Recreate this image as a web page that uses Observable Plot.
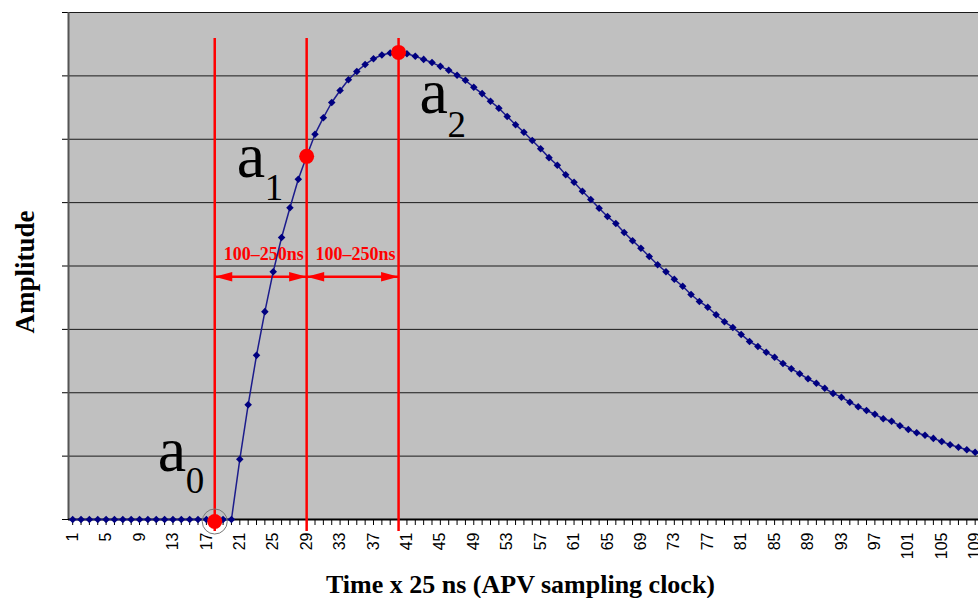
<!DOCTYPE html>
<html><head><meta charset="utf-8">
<script src="https://cdn.jsdelivr.net/npm/d3@7"></script>
<script src="https://cdn.jsdelivr.net/npm/@observablehq/plot@0.6"></script>
<style>body{margin:0;background:#fff;}</style>
</head><body><div id="chart"></div>
<script>
// ---- data ----
const amplitude = [
  0,0,0,0,0,0,0,0,0,0,0,0,0,0,0,0,0,0,0,0,
  95,181,259,328,391,445,492,537,573,608,
  634,658,677,694,707,718,727,733,736,737,
  735,731,726,721,715,709,701,693,682,672,
  660,649,636,623,611,598,585,571,559,544,
  532,518,505,491,478,467,453,440,428,415,
  402,391,379,368,355,344,335,323,312,303,
  292,281,273,264,256,246,238,230,222,215,
  207,199,193,185,178,172,166,159,155,148,
  142,137,133,128,123,118,114,110,106,103
];
const samples = amplitude.map((_, i) => i + 1);
const xTickLabels = [1,5,9,13,17,21,25,29,33,37,41,45,49,53,57,61,65,69,73,77,81,85,89,93,97,101,105,109];
const gridValues = [100,200,300,400,500,600,700,800];
const yTickValues = [0,100,200,300,400,500,600,700,800];
const markerSamples = [18, 29, 40];
const markerSubscripts = ["0", "1", "2"];
const spanLabel = "100–250ns";
const xTitle = "Time x 25 ns (APV sampling clock)";
const yTitle = "Amplitude";

const series = samples.map((s, i) => ({sample: s, amp: amplitude[i]}));
const annots = markerSamples.map((s, k) => ({sample: s, amp: amplitude[s - 1], sub: markerSubscripts[k]}));
const spans = markerSamples.slice(0, -1).map((s, k) => ({x1: s, x2: markerSamples[k + 1], mid: (s + markerSamples[k + 1]) / 2}));
const labelSet = new Set(xTickLabels);

const serif = "'Liberation Serif', 'Times New Roman', serif";
const red = "#ff0000";

function subLabel(k, dx, dy, sdx, sdy) {
  return [
    Plot.text([annots[k]], {x: "sample", y: "amp", text: () => "a", textAnchor: "start", lineAnchor: "bottom",
      dx, dy, fontFamily: serif, fontSize: 64, fill: "#000"}),
    Plot.text([annots[k]], {x: "sample", y: "amp", text: "sub", textAnchor: "start", lineAnchor: "bottom",
      dx: sdx, dy: sdy, fontFamily: serif, fontSize: 37, fill: "#000"})
  ];
}

const svg = Plot.plot({
  width: 978,
  height: 598,
  marginLeft: 68,
  marginRight: 0,
  marginTop: 12,
  marginBottom: 79,
  style: {fontFamily: "'Liberation Sans', Arial, sans-serif", fontSize: "16px", background: "#fff", color: "#000"},
  x: {type: "linear", domain: [0.5, 109.4], ticks: samples, tickSize: 6, tickPadding: 7, tickRotate: -90,
      tickFormat: d => labelSet.has(d) ? String(d) : "", label: null},
  y: {domain: [0, 800], ticks: yTickValues, tickSize: 6, tickFormat: () => "", label: null},
  marks: [
    Plot.frame({fill: "#c0c0c0", stroke: "none"}),
    Plot.ruleY(gridValues, {stroke: "#1a1a1a", strokeWidth: 1}),
    Plot.ruleX([0.5], {stroke: "#555", strokeWidth: 2}),
    Plot.ruleY([0], {stroke: "#000", strokeWidth: 2}),
    // red vertical markers
    Plot.ruleX(markerSamples, {y1: -19, y2: 759, stroke: red, strokeWidth: 2.5}),
    // span arrows
    Plot.link(spans, {x1: "x1", x2: "x2", y1: 383, y2: 383, stroke: red, strokeWidth: 2.5,
      markerStart: "arrow-reverse", markerEnd: "arrow"}),
    Plot.text(spans, {x: "mid", y: 418, text: () => spanLabel, dx: 3, fill: red, fontFamily: serif,
      fontWeight: "bold", fontSize: 18}),
    // signal
    Plot.line(series, {x: "sample", y: "amp", stroke: "#1c1c8c", strokeWidth: 1.5}),
    Plot.dot(series, {x: "sample", y: "amp", symbol: "diamond2", r: 3.4, fill: "#000080", stroke: "none"}),
    // highlighted samples
    Plot.dot([annots[0]], {x: "sample", y: "amp", r: 12.5, fill: "none", stroke: "#777", strokeWidth: 1, dy: 2}),
    Plot.dot([annots[0]], {x: "sample", y: "amp", r: 7.5, fill: red, dy: 2}),
    Plot.dot(annots.slice(1), {x: "sample", y: "amp", r: 7.5, fill: red}),
    ...subLabel(0, -57, -49, -29, -27),
    ...subLabel(1, -70, 21, -42, 44),
    ...subLabel(2, 21, 61, 49, 85),
    // axis titles
    Plot.text([xTitle], {frameAnchor: "bottom", lineAnchor: "bottom", dy: 73, dx: -3, fontFamily: serif,
      fontWeight: "bold", fontSize: 26, fill: "#000"}),
    Plot.text([yTitle], {frameAnchor: "left", textAnchor: "middle", rotate: -90, dx: -43, dy: 6, fontFamily: serif,
      fontWeight: "bold", fontSize: 27, fill: "#000"})
  ]
});

// filled arrowheads
d3.select(svg).selectAll("marker").each(function() {
  const c = this.getAttribute("stroke");
  d3.select(this).attr("overflow", "visible").attr("fill", c).attr("stroke", "none");
  d3.select(this).selectAll("path").attr("d", "M-10.5,-2.8L0,0L-10.5,2.8Z");
});

document.getElementById("chart").appendChild(svg);
</script>
</body></html>
